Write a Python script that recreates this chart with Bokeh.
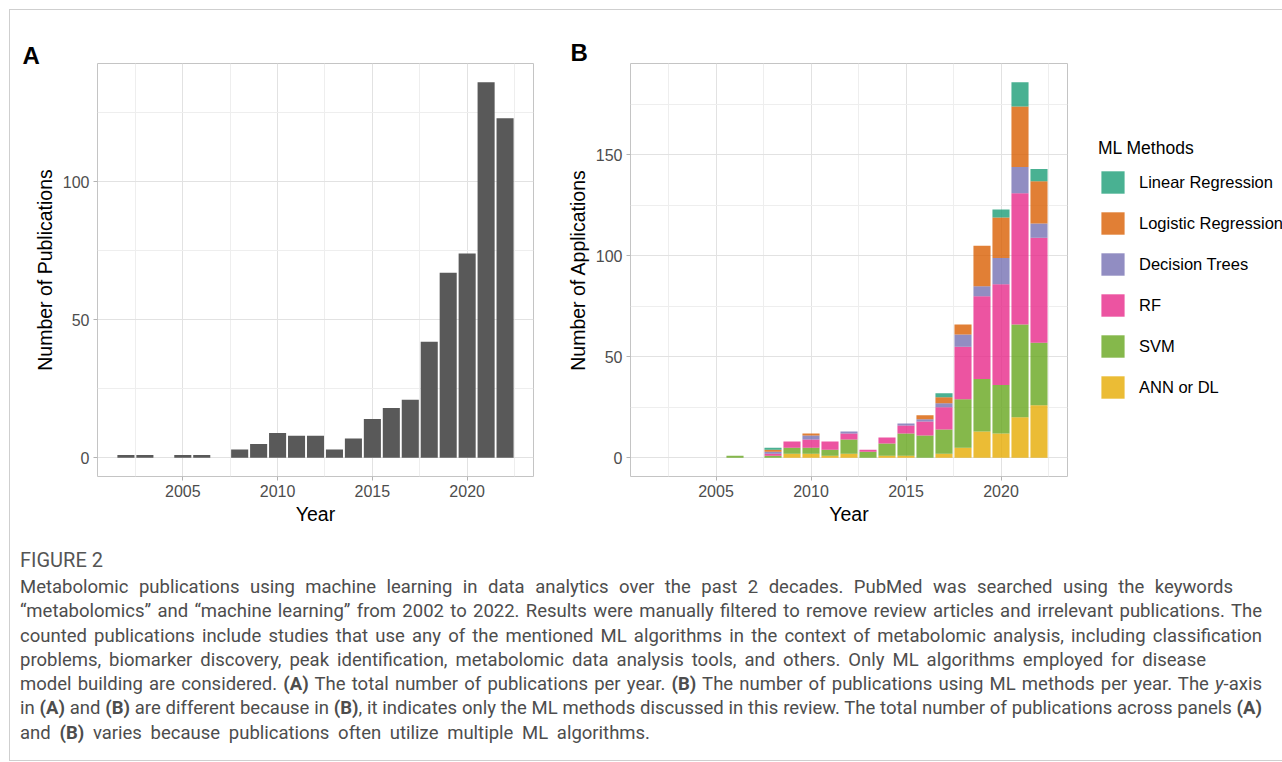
from bokeh.plotting import figure
from bokeh.models import FixedTicker, Legend, LegendItem, Div, ColumnDataSource, Range1d, Title
from bokeh.layouts import row, column
from bokeh.embed import file_html
from bokeh.resources import INLINE

# ---------------- data ----------------
years_a = [2002, 2003, 2005, 2006, 2008, 2009, 2010, 2011, 2012, 2013, 2014,
           2015, 2016, 2017, 2018, 2019, 2020, 2021, 2022]
publications = [1, 1, 1, 1, 3, 5, 9, 8, 8, 3, 7, 14, 18, 21, 42, 67, 74, 136, 123]

years_b = [2006, 2008, 2009, 2010, 2011, 2012, 2013, 2014, 2015, 2016, 2017,
           2018, 2019, 2020, 2021, 2022]
ann_dl = [0, 0, 2, 2, 1, 2, 0, 1, 1, 0, 2, 5, 13, 12, 20, 26]
svm = [1, 1, 3, 3, 3, 7, 3, 6, 11, 11, 12, 24, 26, 24, 46, 31]
rf = [0, 1, 3, 4, 4, 3, 1, 3, 4, 7, 11, 26, 41, 50, 65, 52]
decision_trees = [0, 1, 0, 2, 0, 1, 0, 0, 1, 1, 2, 6, 5, 13, 13, 7]
logistic_regression = [0, 1, 0, 1, 0, 0, 0, 0, 0, 2, 3, 5, 20, 20, 30, 21]
linear_regression = [0, 1, 0, 0, 0, 0, 0, 0, 0, 0, 2, 0, 0, 4, 12, 6]

methods = ["ANN or DL", "SVM", "RF", "Decision Trees", "Logistic Regression", "Linear Regression"]
method_colors = ["#E6AB02", "#66A61E", "#E7298A", "#7570B3", "#D95F02", "#1B9E77"]

x_ticks = [2005, 2010, 2015, 2020]
x_minor = [2002.5, 2007.5, 2012.5, 2017.5, 2022.5]
ya_ticks = [0, 50, 100]
ya_minor = [25, 75, 125]
yb_ticks = [0, 50, 100, 150]
yb_minor = [25, 75, 125, 175]

FONT = "Liberation Sans"


def style(p, xt, xm, yt, ym):
    xtick = FixedTicker(ticks=xt, minor_ticks=xm)
    ytick = FixedTicker(ticks=yt, minor_ticks=ym)
    p.xaxis.ticker = xtick
    p.yaxis.ticker = ytick
    p.xgrid.ticker = xtick
    p.ygrid.ticker = ytick
    for ax in (p.xaxis[0], p.yaxis[0]):
        ax.axis_line_color = None
        ax.major_tick_line_color = "#b3b3b3"
        ax.major_tick_out = 4
        ax.major_tick_in = 0
        ax.minor_tick_line_color = None
        ax.major_label_text_font = FONT
        ax.major_label_text_font_size = "16px"
        ax.major_label_text_color = "#4d4d4d"
        ax.major_label_standoff = 4
        ax.axis_label_text_font = FONT
        ax.axis_label_text_font_size = "19.5px"
        ax.axis_label_text_font_style = "normal"
        ax.axis_label_text_color = "black"
    p.xaxis.axis_label_standoff = 3
    p.yaxis.axis_label_standoff = 4
    for g in (p.xgrid[0], p.ygrid[0]):
        g.grid_line_color = "#e2e2e2"
        g.grid_line_width = 1
        g.minor_grid_line_color = "#eeeeee"
        g.minor_grid_line_width = 1
    p.outline_line_color = "#c4c4c4"
    p.outline_line_width = 1
    p.background_fill_color = "white"
    p.border_fill_color = "white"


def panel_tag(text, offset, standoff):
    return Title(text=text, align="left", vertical_align="bottom", offset=offset,
                 standoff=standoff, text_font=FONT, text_font_size="24px",
                 text_font_style="bold", text_color="black")


# ---------------- panel A ----------------
pA = figure(title=panel_tag("A", -75, -10), frame_width=436, frame_height=413,
            min_border_left=87, min_border_right=27, min_border_top=53, min_border_bottom=60,
            x_range=Range1d(2000.5, 2023.5), y_range=Range1d(-6.8, 142.8),
            output_backend="svg", toolbar_location=None)
srcA = ColumnDataSource(dict(year=years_a, n=publications))
pA.vbar(x="year", top="n", width=0.9, source=srcA, fill_color="#595959", line_color=None)
style(pA, x_ticks, x_minor, ya_ticks, ya_minor)
pA.xaxis.axis_label = "Year"
pA.yaxis.axis_label = "Number of Publications"

# ---------------- panel B ----------------
pB = figure(title=panel_tag("B", -60, -5), frame_width=437, frame_height=413,
            min_border_left=70, min_border_right=214, min_border_top=53, min_border_bottom=60,
            x_range=Range1d(2000.5, 2023.5), y_range=Range1d(-9.3, 195.3),
            output_backend="svg", toolbar_location=None)
srcB = ColumnDataSource({"year": years_b, "ANN or DL": ann_dl, "SVM": svm, "RF": rf,
                         "Decision Trees": decision_trees,
                         "Logistic Regression": logistic_regression,
                         "Linear Regression": linear_regression})
rs = pB.vbar_stack(methods, x="year", width=0.9, color=method_colors, fill_alpha=0.8,
                   line_color=None, source=srcB)
style(pB, x_ticks, x_minor, yb_ticks, yb_minor)
pB.xaxis.axis_label = "Year"
pB.yaxis.axis_label = "Number of Applications"

items = [LegendItem(label=m, renderers=[r]) for m, r in reversed(list(zip(methods, rs)))]
legend = Legend(items=items, location=(31, 75), orientation="vertical",
                title="ML Methods", title_text_font=FONT, title_text_font_size="17.5px",
                title_text_font_style="normal", title_text_color="black", title_standoff=9,
                label_text_font=FONT, label_text_font_size="16.5px", label_text_color="black",
                glyph_width=29, glyph_height=28, spacing=13, label_standoff=12,
                padding=0, margin=0, border_line_color=None, background_fill_alpha=0,
                label_height=28)
pB.add_layout(legend, "right")

# ---------------- caption ----------------
line_style = "text-align:justify; text-align-last:justify;"
lines = [
    (1213, "Metabolomic publications using machine learning in data analytics over the past 2 decades. PubMed was searched using the keywords"),
    (1242, "\u201cmetabolomics\u201d and \u201cmachine learning\u201d from 2002 to 2022. Results were manually filtered to remove review articles and irrelevant publications. The"),
    (1242, "counted publications include studies that use any of the mentioned ML algorithms in the context of metabolomic analysis, including classification"),
    (1186, "problems, biomarker discovery, peak identification, metabolomic data analysis tools, and others. Only ML algorithms employed for disease"),
    (1242, "model building are considered. <b>(A)</b> The total number of publications per year. <b>(B)</b> The number of publications using ML methods per year. The <i>y</i>-axis"),
    (1242, "in <b>(A)</b> and <b>(B)</b> are different because in <b>(B)</b>, it indicates only the ML methods discussed in this review. The total number of publications across panels <b>(A)</b>"),
    (630, "and <b>(B)</b> varies because publications often utilize multiple ML algorithms."),
]
body = "".join(f'<div style="width:{w}px; {line_style}">{t}</div>' for w, t in lines)
caption_html = (
    '<div style="font-family:Roboto; color:#4d4d4d; font-size:18.5px; line-height:24.3px; '
    'word-spacing:-3px; padding-left:5px; padding-top:7px;">'
    '<div style="font-size:20px; color:#555; margin-bottom:3px; line-height:24px; '
    'word-spacing:0px;">FIGURE 2</div>'
    + body + '</div>'
)
caption = Div(text=caption_html, width=1271, height=214)

layout = column(row(pA, pB), caption,
                styles={"margin-left": "9px", "margin-top": "9px",
                        "border-left": "1px solid #cfcfcf", "border-top": "1px solid #cfcfcf",
                        "border-bottom": "1px solid #cfcfcf"})

with open("out.html", "w") as f:
    f.write(file_html(layout, INLINE))
